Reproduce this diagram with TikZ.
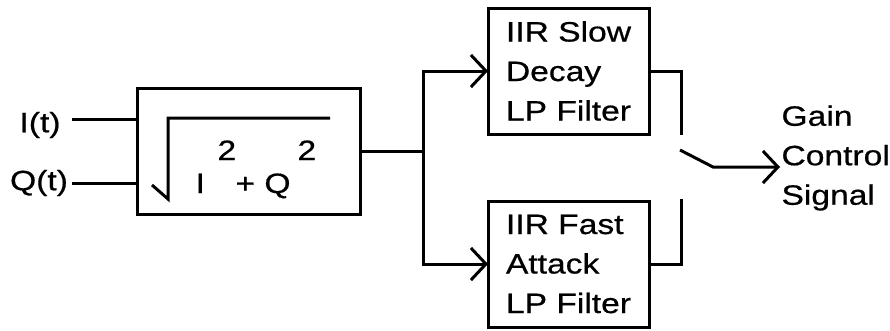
\documentclass[tikz,border=0pt]{standalone}
\usepackage{fontspec}
\setmainfont{Liberation Sans}[FakeStretch=1.2, FakeBold=0.6]
\usetikzlibrary{arrows.meta, positioning}
\tikzset{
    x=1pt, y=-1pt, % one unit is one pixel, y runs downwards
    every node/.style={ % Sets the text of every node
        font=\fontsize{28}{39.5}\selectfont,
        inner sep=0pt
    },
    wire/.style={line width=3pt},
    filter/.style={ % Sets the properties for each block
        draw,
        minimum width=161pt,
        minimum height=126pt,
        align=left,
        outer sep=0pt
    },
    feed/.style={wire, -{Straight Barb[length=15pt,width=32pt]}} % open arrow into a block
}
\begin{document}
\begin{tikzpicture}[wire]
    \useasboundingbox (0,0) rectangle (890,330);
    \node[filter, minimum width=223pt] (mag) at (248.5,151) {};
    % inputs
    \node (i) at (40,125) {I(t)};
    \node (q) at (39,183) {Q(t)};
    \coordinate (i_in) at (72,119);
    \coordinate (q_in) at (72,183);
    \draw (i_in) -- (i_in -| mag.west);
    \draw (q_in) -- (q_in -| mag.west);
    % square root inside the block
    \draw (152,185) -- (168,199) -- (168,118) -- (330,118);
    \node[anchor=base west] (isq) at (194,193) {I};
    \node[anchor=base west] (ipow) at (216,160) {2};
    \node[anchor=base west] (qsq) at (234,193) {+ Q};
    \node[anchor=base west] (qpow) at (296,160) {2};
    % filters
    \node[filter] (slow) at (568.5,71) {IIR Slow\\Decay\\LP Filter};
    \node[filter] (fast) at (568.5,264) {IIR Fast\\Attack\\LP Filter};
    \coordinate (split) at (423,151);
    \draw (mag.east) -- (split);
    \draw[feed] (split) |- (slow.west);
    \draw[feed] (split) |- (fast.west);
    % switch
    \coordinate (top_c) at (681,135);
    \coordinate (bot_c) at (681,199);
    \draw (slow.east) -| (top_c);
    \draw (fast.east) -| (bot_c);
    \coordinate (arm) at (680,150);
    \coordinate (pivot) at (713,167);
    \node[anchor=west, align=left] (gain) at (780,158) {Gain\\Control\\Signal};
    \draw[feed] (arm) -- (pivot) -- (gain.west |- pivot);
\end{tikzpicture}
\end{document}
